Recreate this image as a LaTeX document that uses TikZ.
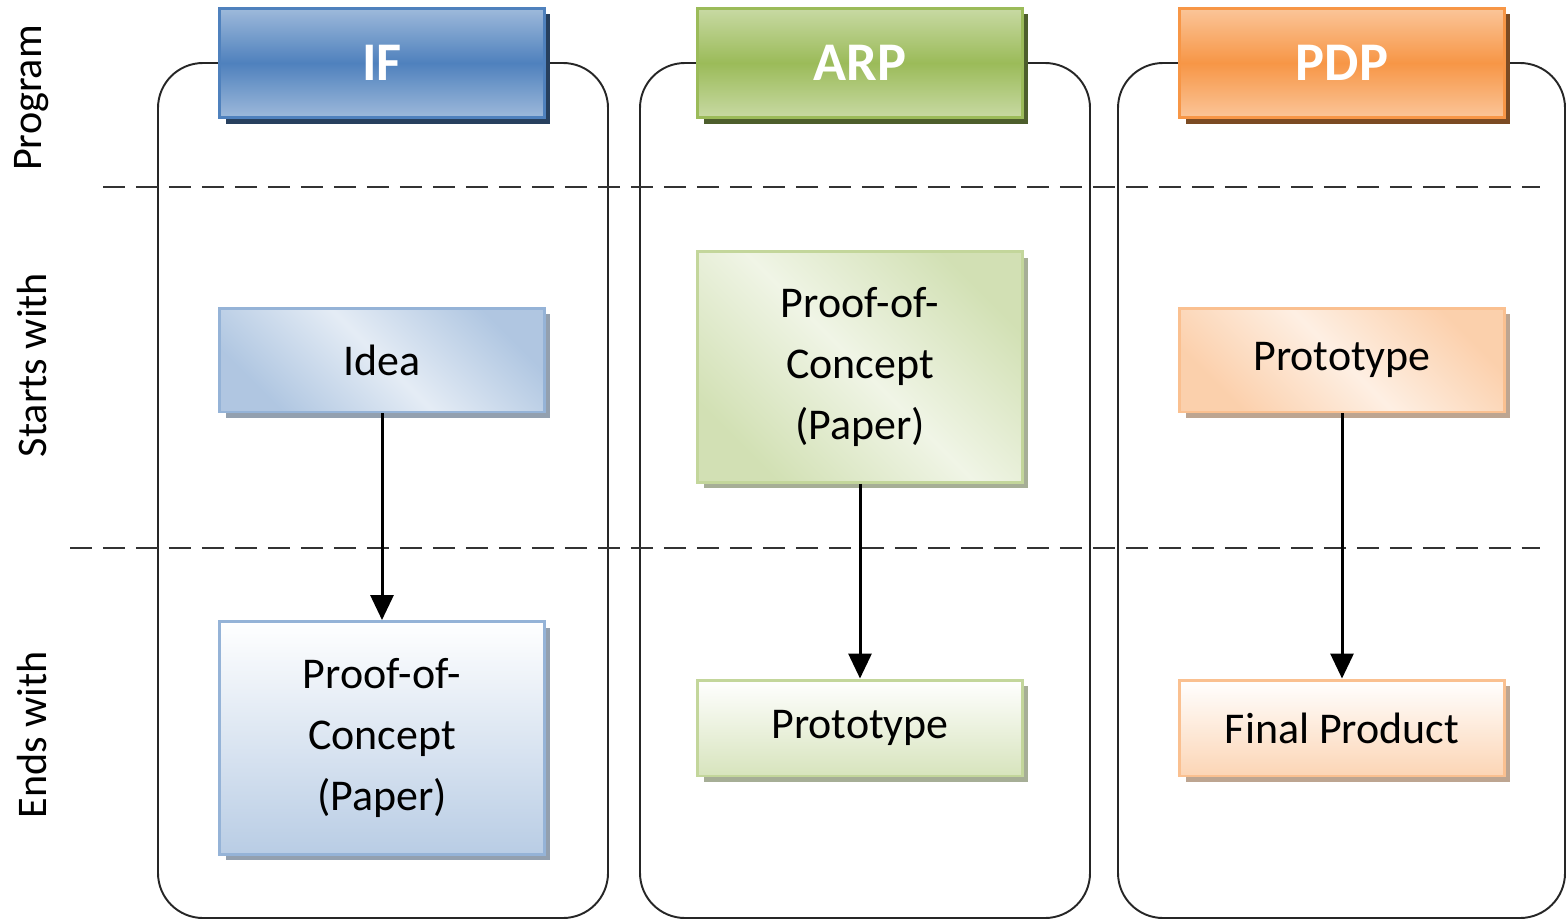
\documentclass[tikz,border=0pt]{standalone}
\usepackage{fontspec}
\setmainfont{Carlito}
\usetikzlibrary{arrows.meta,shadows}
\definecolor{ifcol}{HTML}{4F81BD}
\definecolor{arpcol}{HTML}{9BBB59}
\definecolor{pdpcol}{HTML}{F79646}
\tikzset{
	column/.style={draw=black!85,line width=1.1pt,rounded corners=0.9cm},
	divider/.style={draw=black!80,line width=1.3pt,dash pattern=on 0.44cm off 0.22cm},
	rowlabel/.style={rotate=90,font=\fontsize{24}{28}\selectfont},
	head/.style={minimum width=6.5cm,minimum height=2.2cm,inner sep=0pt,line width=1.7pt,draw=#1,
		top color=#1!55!white,bottom color=#1!55!white,middle color=#1,text=white,
		font=\fontsize{31}{37}\selectfont\bfseries,
		drop shadow={shadow xshift=0.12cm,shadow yshift=-0.12cm,fill=#1!50!black,opacity=1}},
	startbox/.style={minimum width=6.5cm,inner sep=0pt,line width=1.7pt,draw=#1!60!white,align=center,
		top color=#1!45!white,bottom color=#1!45!white,middle color=#1!15!white,shading angle=-45,
		font=\fontsize{25}{34.6}\selectfont,
		drop shadow={shadow xshift=0.12cm,shadow yshift=-0.12cm,fill=#1!50!black!50!white,opacity=1}},
	endbox/.style={minimum width=6.5cm,inner sep=0pt,line width=1.7pt,draw=#1!60!white,align=center,
		top color=white,bottom color=#1!40!white,
		font=\fontsize{25}{34.6}\selectfont,
		drop shadow={shadow xshift=0.12cm,shadow yshift=-0.12cm,fill=#1!50!black!50!white,opacity=1}},
	flow/.style={line width=1.7pt,-{Triangle[width=0.46cm,length=0.5cm]}}
}
\begin{document}
\begin{tikzpicture}[x=0.02cm,y=-0.02cm]
		\useasboundingbox (0,0) rectangle (1567,923);
		\draw[column] (158,63) rectangle (608,918);
		\draw[column] (640,63) rectangle (1090,918);
		\draw[column] (1118,63) rectangle (1565,918);
		\draw[divider] (103,187) -- (1540,187);
		\draw[divider] (70,548) -- (1540,548);
		\node[rowlabel] (program) at (32,98) {Program};
		\node[rowlabel] (starts) at (32,365) {Starts with};
		\node[rowlabel] (ends) at (32,735) {Ends with};
		\node[head=ifcol] (ifhead) at (382,63) {IF};
		\node[head=arpcol] (arphead) at (860,63) {ARP};
		\node[head=pdpcol] (pdphead) at (1342,63) {PDP};
		\node[startbox=ifcol,minimum height=2.08cm] (ifstart) at (382,360) {Idea};
		\node[startbox=arpcol,minimum height=4.62cm] (arpstart) at (860,367) {Proof-of-\\Concept\\(Paper)};
		\node[startbox=pdpcol,minimum height=2.08cm] (pdpstart) at (1342,360) {Prototype};
		\node[endbox=ifcol,minimum height=4.66cm] (ifend) at (382,738) {Proof-of-\\Concept\\(Paper)};
		\node[endbox=arpcol,minimum height=1.92cm] (arpend) at (860,728) {Prototype};
		\node[endbox=pdpcol,minimum height=1.92cm] (pdpend) at (1342,728) {Final Product};
		\draw[flow] (ifstart) -- (ifend);
		\draw[flow] (arpstart) -- (arpend);
		\draw[flow] (pdpstart) -- (pdpend);
		\end{tikzpicture}
\end{document}
